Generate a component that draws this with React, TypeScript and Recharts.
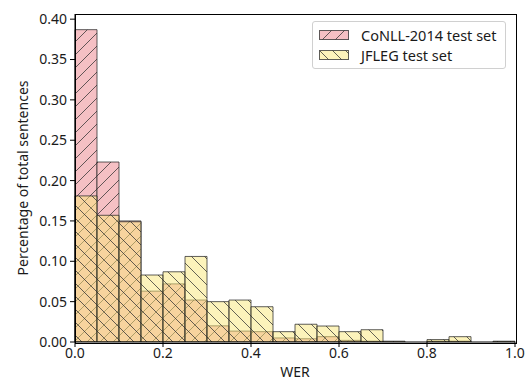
import React from 'react';
import {
  ComposedChart,
  Bar,
  XAxis,
  YAxis,
} from 'recharts';

// WER histogram bins, width 0.05
const binStarts = [
  0, 0.05, 0.1, 0.15, 0.2, 0.25, 0.3, 0.35, 0.4, 0.45,
  0.5, 0.55, 0.6, 0.65, 0.7, 0.75, 0.8, 0.85, 0.9, 0.95,
];
const conllValues = [
  0.387, 0.223, 0.15, 0.063, 0.072, 0.052, 0.02, 0.0135, 0.0128, 0.005,
  0.004, 0.0066, 0.002, 0.001, 0.0, 0.0, 0.001, 0.001, 0.0, 0.0,
];
const jflegValues = [
  0.181, 0.157, 0.149, 0.083, 0.087, 0.106, 0.05, 0.052, 0.0437, 0.0128,
  0.022, 0.0198, 0.0128, 0.0152, 0.001, 0.0, 0.003, 0.0066, 0.0, 0.001,
];
const xTicks = [0, 0.2, 0.4, 0.6, 0.8, 1.0];
const yTicks = [0, 0.05, 0.1, 0.15, 0.2, 0.25, 0.3, 0.35, 0.4];

const chartData = binStarts.map((s, i) => ({
  bin: s.toFixed(2),
  x: s + 0.025,
  conll: conllValues[i],
  jfleg: jflegValues[i],
}));

const FONT = '"Noto Sans", sans-serif';
const FS = 14;
const TXT = '#1a1a1a';
const HATCH = 'rgba(50,50,50,0.75)';
const EDGE = 'rgba(40,40,40,0.75)';
const Y_MAX = 0.4064;

const legendItems = [
  { name: 'CoNLL-2014 test set', fill: 'url(#hatchConll)' },
  { name: 'JFLEG test set', fill: 'url(#hatchJfleg)' },
];

const LegendBox = () => (
  <div
    style={{
      position: 'absolute',
      top: 21,
      left: 312,
      border: '1px solid #d0d0d0',
      borderRadius: 3,
      background: 'rgba(255,255,255,0.8)',
      padding: '3px 8px 3px 6px',
      fontFamily: FONT,
      fontSize: 14.5,
      color: TXT,
      lineHeight: '20px',
    }}
  >
    {legendItems.map((e) => (
      <div key={e.name} style={{ display: 'flex', alignItems: 'center' }}>
        <svg width={30} height={10} style={{ marginRight: 12 }}>
          <rect x={0.5} y={0.5} width={29} height={9} fill={e.fill} stroke={EDGE} />
        </svg>
        <span>{e.name}</span>
      </div>
    ))}
  </div>
);

export default function App() {
  return (
    <div style={{ position: 'absolute', left: 0, top: 0, width: 530, height: 381, background: '#fff' }}>
      <ComposedChart
        width={530}
        height={381}
        data={chartData}
        margin={{ top: 14, right: 15, bottom: 0, left: 0 }}
        barCategoryGap={0}
        barGap={0}
      >
        <defs>
          <pattern id="hatchConll" patternUnits="userSpaceOnUse" width={13} height={13}>
            <rect width={13} height={13} fill="rgb(245,192,196)" />
            <path d="M0,13 L13,0 M-3,3 L3,-3 M10,16 L16,10" stroke={HATCH} strokeWidth={1} />
          </pattern>
          <pattern id="hatchJfleg" patternUnits="userSpaceOnUse" width={13} height={13}>
            <rect width={13} height={13} fill="rgba(249,231,119,0.5)" />
            <path d="M0,0 L13,13 M-3,10 L3,16 M10,-3 L16,3" stroke={HATCH} strokeWidth={1} />
          </pattern>
        </defs>
        <XAxis xAxisId="a" dataKey="bin" type="category" hide height={0} />
        <XAxis xAxisId="b" dataKey="bin" type="category" hide height={0} />
        <XAxis
          xAxisId="num"
          dataKey="x"
          type="number"
          domain={[0, 1]}
          ticks={xTicks}
          allowDataOverflow
          height={39}
          tickFormatter={(v: number) => v.toFixed(1)}
          tick={{ fill: TXT, fontSize: FS, fontFamily: FONT }}
          tickSize={5}
          tickMargin={1}
          axisLine={{ stroke: '#000' }}
          tickLine={{ stroke: '#000' }}
          label={{
            value: 'WER',
            position: 'insideBottom',
            offset: 4,
            fill: TXT,
            fontSize: FS,
            fontFamily: FONT,
          }}
        />
        <YAxis
          yAxisId="y"
          type="number"
          domain={[0, Y_MAX]}
          ticks={yTicks}
          allowDataOverflow
          width={75}
          tickFormatter={(v: number) => v.toFixed(2)}
          tick={{ fill: TXT, fontSize: FS, fontFamily: FONT }}
          tickSize={5}
          tickMargin={3}
          axisLine={{ stroke: '#000' }}
          tickLine={{ stroke: '#000' }}
          label={{
            content: () => (
              <text
                x={22}
                y={178}
                transform="rotate(-90 22 178)"
                textAnchor="middle"
                dominantBaseline="central"
                fill={TXT}
                fontSize={FS}
                fontFamily={FONT}
              >
                Percentage of total sentences
              </text>
            ),
          }}
        />
        <Bar
          xAxisId="a"
          yAxisId="y"
          dataKey="conll"
          name="CoNLL-2014 test set"
          fill="url(#hatchConll)"
          stroke={EDGE}
          strokeWidth={1}
          isAnimationActive={false}
        />
        <Bar
          xAxisId="b"
          yAxisId="y"
          dataKey="jfleg"
          name="JFLEG test set"
          fill="url(#hatchJfleg)"
          stroke={EDGE}
          strokeWidth={1}
          isAnimationActive={false}
        />
      </ComposedChart>
      {/* axes frame (top / right spines) */}
      <div
        style={{
          position: 'absolute',
          left: 74.5,
          top: 13.5,
          width: 440,
          height: 328,
          border: '1px solid #000',
          pointerEvents: 'none',
        }}
      />
      <LegendBox />
    </div>
  );
}
